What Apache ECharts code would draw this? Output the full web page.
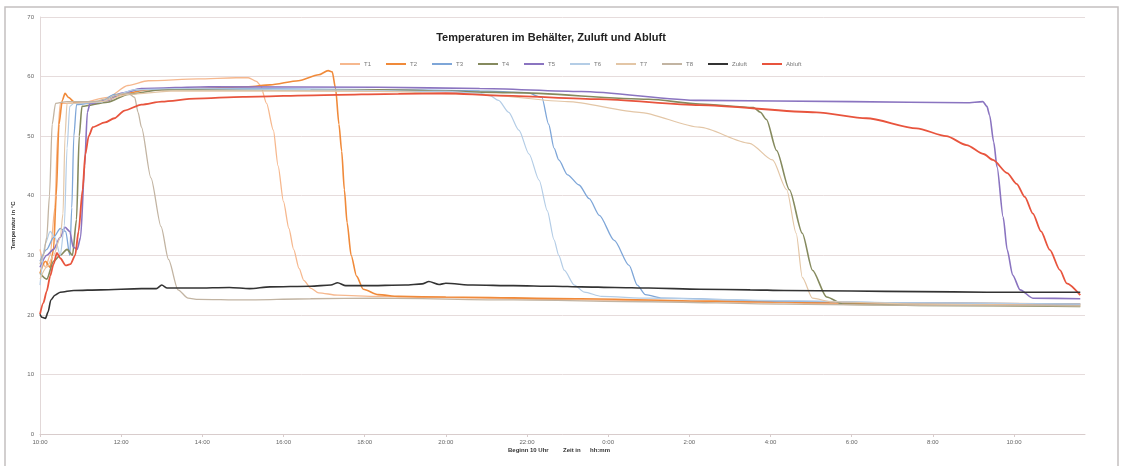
<!DOCTYPE html>
<html>
<head>
<meta charset="utf-8">
<script src="https://cdn.jsdelivr.net/npm/echarts@6/dist/echarts.min.js"></script>
<style>
  html, body { margin: 0; padding: 0; background: #fff; }
  #chart { width: 1121px; height: 466px; }
</style>
</head>
<body>
<div id="chart"></div>
<script>
// Messzeit in Minuten seit Beginn, Temperatur in °C
const seriesNames = ["T1", "T2", "T3", "T4", "T5", "T6", "T7", "T8", "Zuluft", "Abluft"];
const seriesColors = ["#f6b88e", "#f08a3a", "#7ea6d8", "#858a5e", "#8a74c0", "#b4cde6", "#e3c6a6", "#c2b4a2", "#333333", "#e8543d"];

const timeLabels = ["10:00", "12:00", "14:00", "16:00", "18:00", "20:00", "22:00", "0:00", "2:00", "4:00", "6:00", "8:00", "10:00"];
const yTicks = [0, 10, 20, 30, 40, 50, 60, 70];

const t1 = [[0,31],[8,28],[15,30],[22,38],[26,50],[30,55.5],[60,55.6],[100,56.5],[130,58.5],[160,59.3],[234,59.6],[290,59.8],[308,59.8],[320,59.2],[326,58.5],[335,55.5],[345,51],[352,45],[360,39],[368,34.5],[375,31],[383,27.8],[390,25.8],[400,24.5],[412,23.7],[440,23.3],[500,23.1],[600,22.9],[800,22.5],[1000,22.2],[1200,21.8],[1538,21.6]];
const t2 = [[0,27],[8,29],[15,28],[20,31],[24,40],[28,52],[33,56],[37,57.2],[42,56.5],[52,55.6],[80,55.5],[100,56],[120,57],[160,57.8],[234,58],[308,58.3],[340,58.6],[382,59.3],[412,60.3],[426,61],[432,60.8],[437,58],[442,52],[446,47.5],[450,41],[454,35.5],[460,30],[468,26.5],[478,24.3],[500,23.4],[530,23.1],[600,23],[800,22.7],[1000,22.3],[1200,22],[1538,21.8]];
const t3 = [[0,29],[10,31],[20,33],[30,34.5],[38,34],[44,30],[47,38],[50,50],[54,55.3],[90,55.8],[110,57],[150,57.8],[300,58],[500,57.8],[650,57.6],[720,57.3],[742,56.5],[752,52],[760,48],[767,46],[780,43.5],[797,41.8],[812,39.5],[827,36.7],[849,32.5],[871,28.3],[883,25],[895,23.4],[920,22.8],[1100,22.3],[1300,22],[1538,21.8]];
const t4 = [[0,27],[10,26],[20,29],[30,30],[40,31],[48,30],[54,36],[58,50],[62,55],[100,55.7],[130,57],[180,57.8],[500,57.8],[700,57.3],[900,56.2],[975,55.4],[1055,54.8],[1065,54],[1074,52.8],[1089,47.6],[1108,41],[1127,33.7],[1142,27.5],[1163,23],[1187,21.8],[1300,21.6],[1538,21.4]];
const t5 = [[0,28],[10,30],[20,31],[30,33],[37,34.7],[44,34],[49,31.4],[55,31],[60,33],[66,45],[70,54],[74,55.5],[100,56],[120,57.2],[150,58],[250,58.3],[500,58.2],[650,58],[800,57.5],[975,56],[1200,55.8],[1370,55.6],[1394,55.8],[1400,55],[1404,53.5],[1410,49],[1415,44.8],[1424,36.4],[1430,30.9],[1438,26.7],[1449,24.2],[1468,22.8],[1538,22.7]];
const t6 = [[0,25],[8,32],[15,34],[22,33],[30,30],[36,35],[40,48],[44,55],[50,55.5],[90,55.7],[110,56.8],[140,57.8],[200,58],[400,57.8],[600,57.5],[650,57.2],[665,56.8],[678,56],[693,54],[708,51],[723,47],[738,42.6],[750,37.5],[760,32.6],[767,30],[775,27.5],[790,25],[805,23.8],[830,23.1],[900,22.8],[1100,22.4],[1300,22],[1538,21.8]];
const t7 = [[0,26],[10,28],[20,30],[30,33],[34,37],[37,50],[40,55.5],[90,55.8],[130,57],[200,57.6],[500,57.5],[649,57],[780,55.8],[886,54],[975,51.5],[1049,48.8],[1083,46],[1104,41],[1118,33.7],[1127,26.3],[1142,22.8],[1170,22.2],[1300,21.8],[1538,21.5]];
const t8 = [[0,28.5],[5,30],[10,33],[14,40],[18,52],[23,55.5],[40,55.8],[80,55.8],[100,56.3],[115,57],[130,57.2],[140,56.5],[145,54],[150,51.5],[164,43],[179,34.8],[190,29.3],[204,24.2],[219,22.8],[234,22.6],[300,22.5],[400,22.7],[500,22.8],[700,22.5],[900,22.2],[1100,21.8],[1300,21.6],[1538,21.5]];
const zuluft = [[0,20.1],[3,19.6],[8,19.4],[12,20.5],[16,22.5],[22,23.3],[30,23.8],[50,24.1],[90,24.2],[150,24.4],[172,24.4],[180,25],[188,24.5],[230,24.5],[280,24.6],[310,24.4],[340,24.7],[400,24.8],[430,25],[440,25.4],[452,24.9],[480,24.9],[540,25],[565,25.2],[575,25.6],[590,25.1],[600,25.3],[640,25],[700,24.9],[760,24.8],[800,24.7],[850,24.6],[900,24.5],[975,24.3],[1050,24.2],[1100,24.1],[1200,24],[1300,23.9],[1400,23.8],[1538,23.8]];
const abluft = [[0,20.1],[5,22],[10,24],[15,26.5],[20,28.5],[25,30.4],[30,29.5],[38,28.3],[45,28.5],[52,30],[57,34],[63,41],[67,47],[72,50],[78,51.5],[96,52.3],[110,53],[125,54.3],[150,55.3],[180,55.8],[230,56.3],[300,56.6],[420,56.9],[530,57.1],[600,57.2],[680,56.8],[826,56.2],[975,55.2],[1148,54],[1222,53],[1296,51.3],[1340,50],[1370,48.5],[1395,47],[1409,46],[1430,43.8],[1444,42],[1456,39.8],[1468,37],[1480,34],[1493,30.9],[1508,27.5],[1518,25.3],[1538,23.3]];

const seriesData = [t1, t2, t3, t4, t5, t6, t7, t8, zuluft, abluft];
const lineWidths = [1.3, 1.6, 1.3, 1.6, 1.6, 1.2, 1.2, 1.3, 1.6, 1.8];

const chart = echarts.init(document.getElementById('chart'), null, { renderer: 'canvas' });

const series = seriesNames.map((name, i) => ({
  name,
  type: 'line',
  data: seriesData[i],
  showSymbol: false,
  smooth: 0.25,
  smoothMonotone: 'x',
  color: seriesColors[i],
  lineStyle: { width: lineWidths[i], color: seriesColors[i] },
  z: i === 8 ? 3 : 2
}));

chart.setOption({
  backgroundColor: '#ffffff',
  animation: false,
  title: {
    text: 'Temperaturen im Behälter, Zuluft und Abluft',
    left: 546,
    textAlign: 'center',
    top: 27,
    textStyle: { fontFamily: 'Liberation Sans, Arial, sans-serif', fontSize: 11, fontWeight: 'bold', color: '#222' }
  },
  legend: {
    data: seriesNames,
    left: 335,
    top: 56,
    itemWidth: 20,
    itemHeight: 2,
    itemGap: 15,
    icon: 'rect',
    textStyle: { fontFamily: 'Liberation Sans, Arial, sans-serif', fontSize: 6, color: '#777', padding: [0, 0, 0, -1] }
  },
  grid: { left: 40, right: 36, top: 17, bottom: 32, containLabel: false },
  xAxis: {
    type: 'value',
    min: 0,
    max: 1545,
    interval: 120,
    axisLine: { show: true, lineStyle: { color: '#d8cccc', width: 1 } },
    axisTick: { show: true, length: 3, lineStyle: { color: '#d8cccc' } },
    splitLine: { show: false },
    axisLabel: {
      showMaxLabel: false,
      fontFamily: 'Liberation Sans, Arial, sans-serif',
      fontSize: 6,
      color: '#666',
      margin: 5,
      formatter: v => {
        const k = Math.round(v / 120);
        return (Math.abs(v - k * 120) < 1e-6 && timeLabels[k]) ? timeLabels[k] : '';
      }
    }
  },
  yAxis: {
    type: 'value',
    min: yTicks[0],
    max: yTicks[yTicks.length - 1],
    interval: 10,
    name: 'Temperatur in °C',
    nameLocation: 'middle',
    nameGap: 20,
    nameTextStyle: { fontFamily: 'Liberation Sans, Arial, sans-serif', fontSize: 6, fontWeight: 'bold', color: '#333' },
    axisLine: { show: true, lineStyle: { color: '#e2d8d8', width: 1 } },
    axisTick: { show: false },
    splitLine: { show: true, lineStyle: { color: '#e6dcdc', width: 1 } },
    axisLabel: { fontFamily: 'Liberation Sans, Arial, sans-serif', fontSize: 6, color: '#666', margin: 6 }
  },
  graphic: [
    {
      type: 'rect',
      shape: { x: 5, y: 7, width: 1113, height: 470 },
      style: { fill: 'none', stroke: '#c4c0c0', lineWidth: 1.5 },
      silent: true, z: -1
    },
    {
      type: 'text', left: 508, top: 447,
      style: { text: 'Beginn 10 Uhr', font: 'bold 6px Liberation Sans, Arial, sans-serif', fill: '#333' }
    },
    {
      type: 'text', left: 563, top: 447,
      style: { text: 'Zeit in', font: 'bold 6px Liberation Sans, Arial, sans-serif', fill: '#333' }
    },
    {
      type: 'text', left: 590, top: 447,
      style: { text: 'hh:mm', font: 'bold 6px Liberation Sans, Arial, sans-serif', fill: '#333' }
    }
  ],
  series
});
</script>
</body>
</html>
